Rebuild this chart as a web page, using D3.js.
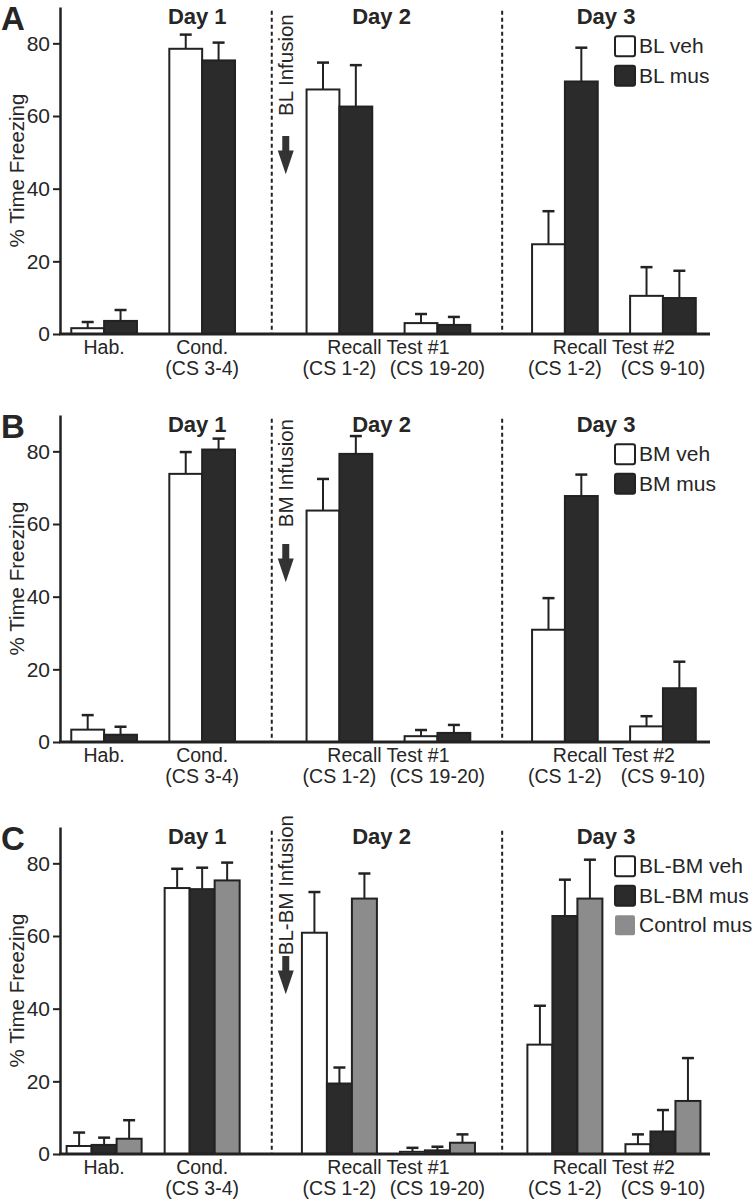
<!DOCTYPE html>
<html>
<head>
<meta charset="utf-8">
<script src="https://cdn.jsdelivr.net/npm/d3@7"></script>
<style>
  body { margin: 0; background: #fff; }
  svg text { font-family: "Liberation Sans", Arial, Helvetica, sans-serif; fill: #262626; }
</style>
</head>
<body>
<div id="chart"></div>
<script>
// data (% time freezing, mean and SEM)
var categories = ["Hab.", "Cond. (CS 3-4)", "Recall #1 (CS 1-2)", "Recall #1 (CS 19-20)", "Recall #2 (CS 1-2)", "Recall #2 (CS 9-10)"];
var yTicks = [0, 20, 40, 60, 80];

var blVeh = [1.6, 78.5, 67.3, 3.0, 24.7, 10.5];
var blVehSem = [1.7, 3.9, 7.4, 2.5, 9.1, 7.9];
var blMus = [3.6, 75.3, 62.6, 2.5, 69.5, 9.9];
var blMusSem = [3.0, 4.9, 11.4, 2.2, 9.3, 7.5];

var bmVeh = [3.4, 73.8, 63.7, 1.6, 30.9, 4.3];
var bmVehSem = [4.0, 6.0, 8.7, 1.7, 8.7, 2.8];
var bmMus = [2.0, 80.5, 79.3, 2.5, 67.7, 14.8];
var bmMusSem = [2.2, 3.0, 4.9, 2.2, 5.9, 7.3];

var blbmVeh = [2.2, 73.2, 60.9, 0.6, 30.1, 2.7];
var blbmVehSem = [3.7, 5.3, 11.2, 1.1, 10.7, 2.7];
var blbmMus = [2.5, 72.9, 19.4, 1.0, 65.5, 6.2];
var blbmMusSem = [2.0, 5.9, 4.4, 1.0, 10.0, 5.9];
var ctrlMus = [4.2, 75.3, 70.3, 3.1, 70.3, 14.6];
var ctrlMusSem = [5.1, 4.9, 6.9, 2.3, 10.7, 11.8];

var dayTitles = ["Day 1", "Day 2", "Day 3"];
var labelLine1 = ["Hab.", "Cond.", "Recall Test #1", "Recall Test #2"];
var labelLine2 = ["(CS 3-4)", "(CS 1-2)", "(CS 19-20)", "(CS 1-2)", "(CS 9-10)"];

// layout (scale-domain positions of the groups, titles, dividers)
var slotX = [0, 1, 2.4, 3.4, 4.7, 5.7];
var line1X = [0, 1, 2.9, 5.2];
var line2X = [1, 2.4, 3.4, 4.7, 5.7];
var dayX = [0.95, 2.83, 5.12];
var dividerX = [1.71, 4.06];

var fills = {white: "#ffffff", black: "#2b2b2b", gray: "#8c8c8c"};
var ink = "#222";

var panels = [
  {letter: "A", top: 7, infusion: "BL Infusion", barW: 0.335,
   series: [{name: "BL veh", v: blVeh, e: blVehSem, fill: fills.white},
            {name: "BL mus", v: blMus, e: blMusSem, fill: fills.black}]},
  {letter: "B", top: 415, infusion: "BM Infusion", barW: 0.335,
   series: [{name: "BM veh", v: bmVeh, e: bmVehSem, fill: fills.white},
            {name: "BM mus", v: bmMus, e: bmMusSem, fill: fills.black}]},
  {letter: "C", top: 827, infusion: "BL-BM Infusion", barW: 0.255,
   series: [{name: "BL-BM veh", v: blbmVeh, e: blbmVehSem, fill: fills.white},
            {name: "BL-BM mus", v: blbmMus, e: blbmMusSem, fill: fills.black},
            {name: "Control mus", v: ctrlMus, e: ctrlMusSem, fill: fills.gray, legendStroke: "none"}]}
];

var plotH = 327;
var x = d3.scaleLinear().domain([-0.45, 6.18]).range([60, 710]);

var svg = d3.select("#chart").append("svg")
    .attr("width", 756)
    .attr("height", 1200);

panels.forEach(function (p) {
    var y = d3.scaleLinear().domain([0, 90]).range([p.top + plotH, p.top]);
    var g = svg.append("g");

    // dividers between days
    g.selectAll(".div").data(dividerX).enter().append("line")
        .attr("x1", d => x(d)).attr("x2", d => x(d))
        .attr("y1", y(89)).attr("y2", y(0))
        .attr("stroke", ink).attr("stroke-width", 2)
        .attr("stroke-dasharray", "4,3");

    // bars
    var n = p.series.length;
    p.series.forEach(function (s, si) {
        var off = (si - n / 2) * p.barW;
        var bw = x(p.barW) - x(0);
        g.selectAll(".bar" + si).data(s.v).enter().append("rect")
            .attr("x", (d, i) => x(slotX[i] + off))
            .attr("y", d => y(d))
            .attr("width", bw)
            .attr("height", d => y(0) - y(d))
            .attr("fill", s.fill)
            .attr("stroke", ink)
            .attr("stroke-width", 2);

        // error bars (upper only)
        var eg = g.selectAll(".err" + si).data(s.v).enter().append("g");
        eg.append("line")
            .attr("x1", (d, i) => x(slotX[i] + off) + bw / 2)
            .attr("x2", (d, i) => x(slotX[i] + off) + bw / 2)
            .attr("y1", d => y(d))
            .attr("y2", (d, i) => y(d + s.e[i]))
            .attr("stroke", ink).attr("stroke-width", 2);
        eg.append("line")
            .attr("x1", (d, i) => x(slotX[i] + off) + bw / 2 - 6)
            .attr("x2", (d, i) => x(slotX[i] + off) + bw / 2 + 6)
            .attr("y1", (d, i) => y(d + s.e[i]))
            .attr("y2", (d, i) => y(d + s.e[i]))
            .attr("stroke", ink).attr("stroke-width", 2.5);
    });

    // y axis
    var ya = g.append("g")
        .attr("transform", "translate(" + x.range()[0] + ",0)")
        .call(d3.axisLeft(y).tickValues(yTicks).tickSize(7).tickSizeOuter(0).tickPadding(3));
    ya.select(".domain").attr("stroke", ink).attr("stroke-width", 2.5);
    ya.selectAll(".tick line").attr("stroke", ink).attr("stroke-width", 2);
    ya.selectAll(".tick text").attr("font-size", 21).attr("fill", "#262626")
        .style("font-family", "'Liberation Sans', Arial, sans-serif");

    // x baseline
    g.append("line")
        .attr("x1", x.range()[0] - 1).attr("x2", x.range()[1])
        .attr("y1", y(0)).attr("y2", y(0))
        .attr("stroke", ink).attr("stroke-width", 3);

    // y label
    g.append("text")
        .attr("transform", "translate(24," + y(45) + ") rotate(-90)")
        .attr("text-anchor", "middle")
        .attr("font-size", 20.5)
        .text("% Time Freezing");

    // panel letter
    g.append("text")
        .attr("x", 1).attr("y", y(83.6))
        .attr("font-size", 33).attr("font-weight", "bold")
        .attr("fill", "#111")
        .text(p.letter);

    // day titles
    g.selectAll(".day").data(dayTitles).enter().append("text")
        .attr("x", (d, i) => x(dayX[i]))
        .attr("y", y(85.3))
        .attr("text-anchor", "middle")
        .attr("font-size", 22).attr("font-weight", "bold")
        .text(d => d);

    // x labels
    g.selectAll(".l1").data(labelLine1).enter().append("text")
        .attr("x", (d, i) => x(line1X[i]))
        .attr("y", y(0) + 20)
        .attr("text-anchor", "middle")
        .attr("font-size", 19.5)
        .text(d => d);
    g.selectAll(".l2").data(labelLine2).enter().append("text")
        .attr("x", (d, i) => x(line2X[i]))
        .attr("y", y(0) + 41)
        .attr("text-anchor", "middle")
        .attr("font-size", 19.5)
        .text(d => d);

    // infusion note with arrow
    var ax = x(dividerX[0]) + 14;
    g.append("text")
        .attr("transform", "translate(" + (ax + 7) + "," + y(74) + ") rotate(-90)")
        .attr("text-anchor", "middle")
        .attr("font-size", 20.5)
        .text(p.infusion);
    var aTop = y(54.5), aMid = y(50.5), aTip = y(44);
    g.append("path")
        .attr("d", "M" + (ax - 3.5) + "," + aTop + "H" + (ax + 3.5) + "V" + aMid +
              "H" + (ax + 8) + "L" + ax + "," + aTip + "L" + (ax - 8) + "," + aMid +
              "H" + (ax - 3.5) + "Z")
        .attr("fill", "#333");

    // legend
    var lg = g.append("g").attr("transform", "translate(615," + (y(80) - 7) + ")");
    p.series.forEach(function (s, si) {
        lg.append("rect")
            .attr("x", 0).attr("y", si * 29.5)
            .attr("width", 20).attr("height", 20)
            .attr("rx", 2)
            .attr("fill", s.fill)
            .attr("stroke", s.legendStroke || ink)
            .attr("stroke-width", 2);
        lg.append("text")
            .attr("x", 24).attr("y", si * 29.5 + 17)
            .attr("font-size", 21)
            .text(s.name);
    });
});
</script>
</body>
</html>
